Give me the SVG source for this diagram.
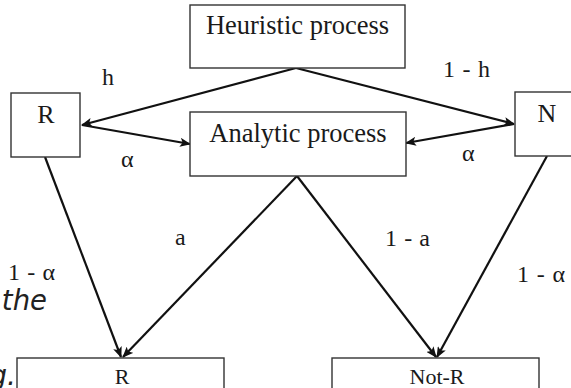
<svg xmlns="http://www.w3.org/2000/svg" width="571" height="388" viewBox="0 0 571 388">
  <style>
    .box { fill: #ffffff; stroke: #333333; stroke-width: 1.4; }
    .lbl { font-family: "Liberation Serif", "Times New Roman", serif; fill: #1a1a1a; }
    .edge { stroke: #111111; stroke-width: 2.2; fill: none; marker-end: url(#arrow); }
    .page { font-family: "DejaVu Sans", "Liberation Sans", sans-serif; font-style: italic; fill: #222222; }
  </style>
  <defs>
    <marker id="arrow" markerUnits="userSpaceOnUse" markerWidth="11" markerHeight="9" refX="10" refY="4.5" orient="auto">
      <path d="M0,0 L11,4.5 L0,9 L2.5,4.5 z" fill="#111111"/>
    </marker>
  </defs>
  <rect width="571" height="388" fill="#ffffff"/>

  <!-- stray page text at the left margin -->
  <text class="page" x="47" y="310" font-size="27.5" text-anchor="end">the</text>
  <text class="page" x="16" y="385" font-size="28" text-anchor="end">g.</text>

  <g id="connectors">
    <line class="edge" x1="296" y1="68" x2="82" y2="125"/>
    <line class="edge" x1="296" y1="68" x2="514" y2="124"/>
    <line class="edge" x1="82" y1="125" x2="190" y2="144"/>
    <line class="edge" x1="514" y1="124" x2="406" y2="143"/>
    <line class="edge" x1="297" y1="176" x2="123" y2="357"/>
    <line class="edge" x1="297" y1="176" x2="436" y2="357"/>
    <line class="edge" x1="45" y1="157" x2="121" y2="357"/>
    <line class="edge" x1="547" y1="156" x2="437" y2="357"/>
  </g>

  <g id="edge-labels" class="lbl" font-size="24">
    <text x="102" y="85">h</text>
    <text x="121" y="167">α</text>
    <text x="443" y="77" textLength="47" lengthAdjust="spacing">1 - h</text>
    <text x="462" y="161">α</text>
    <text x="175" y="245">a</text>
    <text x="385" y="246" textLength="45" lengthAdjust="spacing">1 - a</text>
    <text x="8" y="280" textLength="47" lengthAdjust="spacing">1 - α</text>
    <text x="517" y="282" textLength="48" lengthAdjust="spacing">1 - α</text>
  </g>

  <g id="heuristic">
    <rect class="box" x="190" y="5" width="215" height="63"/>
    <text class="lbl" x="297.5" y="34" font-size="26.5" text-anchor="middle">Heuristic process</text>
  </g>

  <g id="analytic">
    <rect class="box" x="190" y="112" width="216" height="64"/>
    <text class="lbl" x="298" y="142" font-size="26.5" text-anchor="middle">Analytic process</text>
  </g>

  <g id="r-top">
    <rect class="box" x="11" y="93" width="69" height="64"/>
    <text class="lbl" x="46" y="123" font-size="26" text-anchor="middle">R</text>
  </g>

  <g id="n-top">
    <rect class="box" x="515" y="92" width="66" height="64"/>
    <text class="lbl" x="547" y="122" font-size="26" text-anchor="middle">N</text>
  </g>

  <g id="r-bottom">
    <rect class="box" x="17" y="358" width="207" height="40"/>
    <text class="lbl" x="122" y="384" font-size="22" text-anchor="middle">R</text>
  </g>

  <g id="not-r">
    <rect class="box" x="332" y="358" width="207" height="40"/>
    <text class="lbl" x="437" y="384" font-size="22" text-anchor="middle">Not-R</text>
  </g>
</svg>
